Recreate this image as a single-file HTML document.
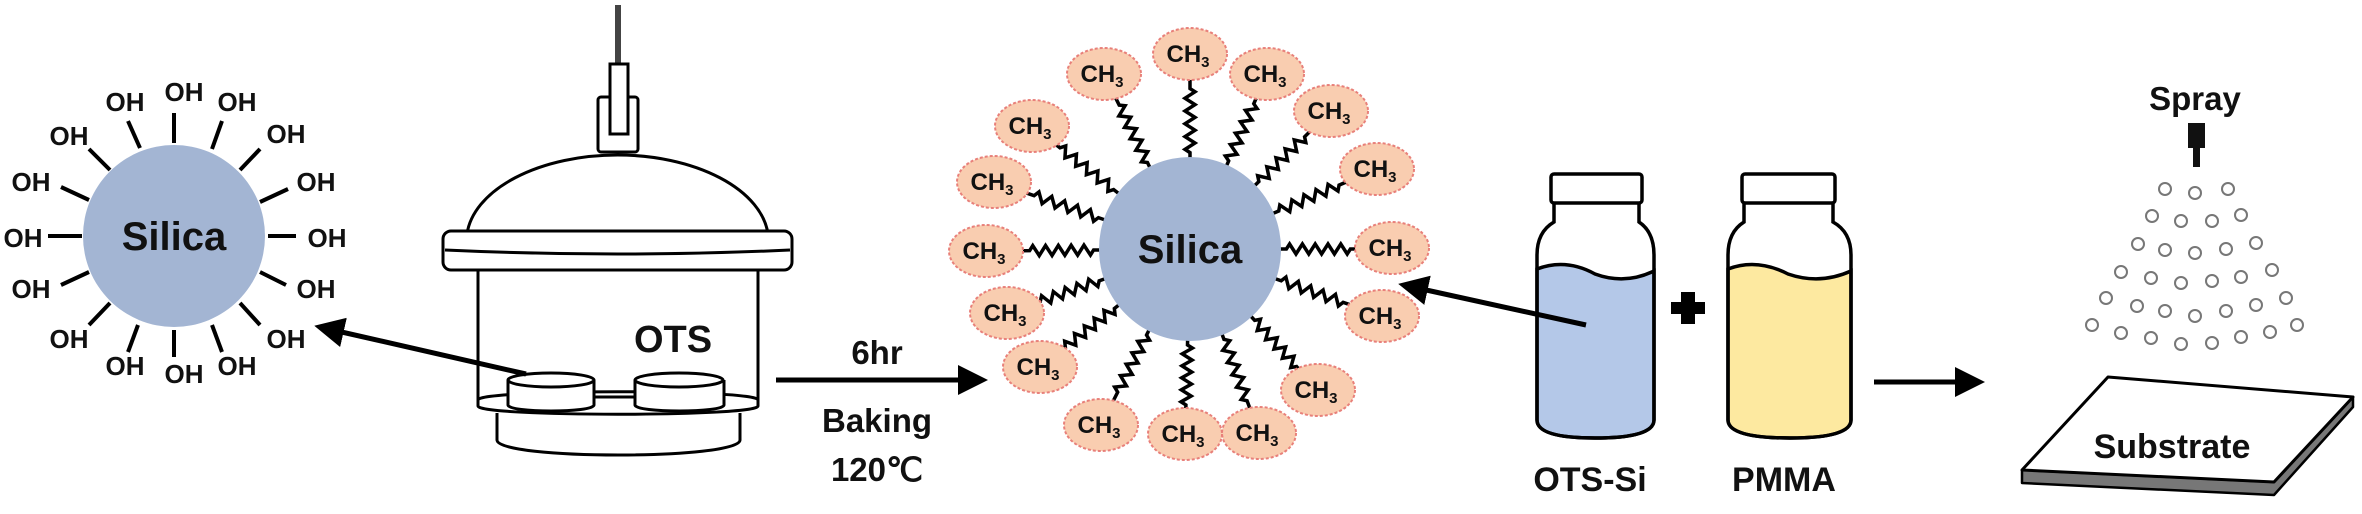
<!DOCTYPE html>
<html><head><meta charset="utf-8"><style>
html,body{margin:0;padding:0;background:#fff;}
svg{display:block;}
text{font-family:"Liberation Sans",Arial,sans-serif;font-weight:bold;fill:#111;}
</style></head><body>
<svg width="2362" height="514" viewBox="0 0 2362 514" xmlns="http://www.w3.org/2000/svg">
<defs>
<marker id="ah" markerWidth="6" markerHeight="6" refX="4" refY="3" orient="auto" markerUnits="strokeWidth">
<path d="M0,0 L6,3 L0,6 Z" fill="#000"/></marker>
<path id="zz" d="M0,0 L8,0 L12,-5 L20,5 L28,-5 L36,5 L44,-5 L52,5 L60,-5 L68,5 L76,-5 L84,5 L88,0 L100,0" fill="none" stroke="#000" stroke-width="3.5" vector-effect="non-scaling-stroke"/>
</defs>

<!-- Left silica -->
<g stroke="#000" stroke-width="4">
<line x1="174" y1="113" x2="174" y2="143"/>
<line x1="128" y1="121" x2="140" y2="148"/>
<line x1="222" y1="121" x2="212" y2="149"/>
<line x1="89" y1="149" x2="110" y2="170"/>
<line x1="260" y1="149" x2="240" y2="170"/>
<line x1="61" y1="187" x2="89" y2="200"/>
<line x1="288" y1="189" x2="260" y2="202"/>
<line x1="48" y1="236" x2="82" y2="236"/>
<line x1="268" y1="236" x2="296" y2="236"/>
<line x1="61" y1="285" x2="89" y2="272"/>
<line x1="286" y1="285" x2="260" y2="272"/>
<line x1="89" y1="325" x2="110" y2="303"/>
<line x1="260" y1="325" x2="240" y2="303"/>
<line x1="128" y1="352" x2="138" y2="325"/>
<line x1="174" y1="357" x2="174" y2="330"/>
<line x1="222" y1="352" x2="212" y2="325"/>
</g>
<circle cx="174" cy="236" r="91" fill="#a3b5d3"/>
<text x="174" y="250" font-size="40" text-anchor="middle">Silica</text>
<g font-size="26" text-anchor="middle">
<text x="125" y="111">OH</text><text x="184" y="101">OH</text><text x="237" y="111">OH</text>
<text x="69" y="145">OH</text><text x="286" y="143">OH</text>
<text x="31" y="191">OH</text><text x="316" y="191">OH</text>
<text x="23" y="247">OH</text><text x="327" y="247">OH</text>
<text x="31" y="298">OH</text><text x="316" y="298">OH</text>
<text x="69" y="348">OH</text><text x="286" y="348">OH</text>
<text x="125" y="375">OH</text><text x="184" y="383">OH</text><text x="237" y="375">OH</text>
</g>

<!-- Desiccator -->
<g stroke="#000" stroke-width="3" fill="#fff">
<rect x="615" y="5" width="6" height="62" fill="#444" stroke="none"/>
<rect x="598" y="97" width="40" height="55" rx="3"/>
<rect x="610" y="64" width="18" height="70"/>
<path d="M467,234 A151,86 0 0 1 768,234"/>
<rect x="443" y="231" width="349" height="39" rx="8"/>
<path d="M445,250 Q618,258 790,250" fill="none"/>
<line x1="478" y1="270" x2="478" y2="405"/>
<line x1="758" y1="270" x2="758" y2="405"/>
<path d="M497,413 L497,440 C497,460 740,460 740,440 L740,413"/>
<path d="M478,400 C478,389 758,389 758,400 L758,406 C758,417 478,417 478,406 Z"/>
<line x1="594" y1="397" x2="635" y2="397"/>
<path d="M508,380 L508,405 C508,413 594,413 594,405 L594,380"/>
<ellipse cx="551" cy="380" rx="43" ry="7"/>
<path d="M635,380 L635,405 C635,413 724,413 724,405 L724,380"/>
<ellipse cx="679" cy="380" rx="44" ry="7"/>
</g>
<text x="673" y="352" font-size="38" text-anchor="middle">OTS</text>
<line x1="526" y1="374" x2="324" y2="328" stroke="#000" stroke-width="5" marker-end="url(#ah)"/>

<!-- 6hr arrow -->
<line x1="776" y1="380" x2="978" y2="380" stroke="#000" stroke-width="5" marker-end="url(#ah)"/>
<g font-size="33" text-anchor="middle">
<text x="877" y="364">6hr</text>
<text x="877" y="432">Baking</text>
<text x="877" y="481">120℃</text>
</g>

<!-- Center silica with CH3 -->
<g>
<use href="#zz" transform="translate(1190,249) rotate(-116.2) translate(90,0) scale(0.8,1)"/>
<use href="#zz" transform="translate(1190,249) rotate(-90) translate(90,0) scale(0.8,1)"/>
<use href="#zz" transform="translate(1190,249) rotate(-66.3) translate(90,0) scale(0.78,1)"/>
<use href="#zz" transform="translate(1190,249) rotate(-44.4) translate(90,0) scale(0.8,1)"/>
<use href="#zz" transform="translate(1190,249) rotate(-23.2) translate(90,0) scale(0.82,1)"/>
<use href="#zz" transform="translate(1190,249) rotate(0) translate(90,0) scale(0.8,1)"/>
<use href="#zz" transform="translate(1190,249) rotate(19.2) translate(90,0) scale(0.82,1)"/>
<use href="#zz" transform="translate(1190,249) rotate(47.8) translate(90,0) scale(0.78,1)"/>
<use href="#zz" transform="translate(1190,249) rotate(69.4) translate(90,0) scale(0.82,1)"/>
<use href="#zz" transform="translate(1190,249) rotate(91.5) translate(90,0) scale(0.75,1)"/>
<use href="#zz" transform="translate(1190,249) rotate(116.8) translate(90,0) scale(0.8,1)"/>
<use href="#zz" transform="translate(1190,249) rotate(141.8) translate(90,0) scale(0.78,1)"/>
<use href="#zz" transform="translate(1190,249) rotate(160.7) translate(90,0) scale(0.78,1)"/>
<use href="#zz" transform="translate(1190,249) rotate(179.4) translate(90,0) scale(0.8,1)"/>
<use href="#zz" transform="translate(1190,249) rotate(-161.1) translate(90,0) scale(0.85,1)"/>
<use href="#zz" transform="translate(1190,249) rotate(-142.1) translate(90,0) scale(0.85,1)"/>
</g>
<ellipse cx="1190" cy="249" rx="91" ry="92" fill="#a3b5d3"/>
<text x="1190" y="263" font-size="40" text-anchor="middle">Silica</text>
<g fill="#f9cdb0" stroke="#e8807a" stroke-width="2" stroke-dasharray="3,2">
<ellipse cx="1104" cy="74" rx="37" ry="26"/>
<ellipse cx="1190" cy="54" rx="37" ry="26"/>
<ellipse cx="1267" cy="74" rx="37" ry="26"/>
<ellipse cx="1331" cy="111" rx="37" ry="26"/>
<ellipse cx="1377" cy="169" rx="37" ry="26"/>
<ellipse cx="1392" cy="248" rx="37" ry="26"/>
<ellipse cx="1382" cy="316" rx="37" ry="26"/>
<ellipse cx="1318" cy="390" rx="37" ry="26"/>
<ellipse cx="1259" cy="433" rx="37" ry="26"/>
<ellipse cx="1185" cy="434" rx="37" ry="26"/>
<ellipse cx="1101" cy="425" rx="37" ry="26"/>
<ellipse cx="1040" cy="367" rx="37" ry="26"/>
<ellipse cx="1007" cy="313" rx="37" ry="26"/>
<ellipse cx="986" cy="251" rx="37" ry="26"/>
<ellipse cx="994" cy="182" rx="37" ry="26"/>
<ellipse cx="1032" cy="126" rx="37" ry="26"/>
</g>
<g font-size="24" text-anchor="middle">
<text x="1102" y="82">CH<tspan font-size="15" dy="5">3</tspan></text>
<text x="1188" y="62">CH<tspan font-size="15" dy="5">3</tspan></text>
<text x="1265" y="82">CH<tspan font-size="15" dy="5">3</tspan></text>
<text x="1329" y="119">CH<tspan font-size="15" dy="5">3</tspan></text>
<text x="1375" y="177">CH<tspan font-size="15" dy="5">3</tspan></text>
<text x="1390" y="256">CH<tspan font-size="15" dy="5">3</tspan></text>
<text x="1380" y="324">CH<tspan font-size="15" dy="5">3</tspan></text>
<text x="1316" y="398">CH<tspan font-size="15" dy="5">3</tspan></text>
<text x="1257" y="441">CH<tspan font-size="15" dy="5">3</tspan></text>
<text x="1183" y="442">CH<tspan font-size="15" dy="5">3</tspan></text>
<text x="1099" y="433">CH<tspan font-size="15" dy="5">3</tspan></text>
<text x="1038" y="375">CH<tspan font-size="15" dy="5">3</tspan></text>
<text x="1005" y="321">CH<tspan font-size="15" dy="5">3</tspan></text>
<text x="984" y="259">CH<tspan font-size="15" dy="5">3</tspan></text>
<text x="992" y="190">CH<tspan font-size="15" dy="5">3</tspan></text>
<text x="1030" y="134">CH<tspan font-size="15" dy="5">3</tspan></text>
</g>

<!-- Bottles -->
<g stroke="#000" stroke-width="3.5">
<path d="M1537,269 Q1566,258 1595,274 Q1625,285 1654,271 L1654,420 Q1654,438 1595,438 Q1537,438 1537,420 Z" fill="#b4c8e8"/>
<path d="M1554,203 L1554,222 Q1537,232 1537,255 L1537,420 Q1537,438 1595,438 Q1654,438 1654,420 L1654,255 Q1654,232 1639,222 L1639,203" fill="none"/>
<rect x="1551" y="174" width="91" height="29" rx="3" fill="#fff"/>
<path d="M1728,269 Q1757,258 1788,274 Q1820,285 1851,271 L1851,420 Q1851,438 1790,438 Q1728,438 1728,420 Z" fill="#fde9a0"/>
<path d="M1744,203 L1744,222 Q1728,232 1728,255 L1728,420 Q1728,438 1790,438 Q1851,438 1851,420 L1851,255 Q1851,232 1833,222 L1833,203" fill="none"/>
<rect x="1742" y="174" width="93" height="29" rx="3" fill="#fff"/>
</g>
<path d="M1681,292 h14 v10 h10 v12 h-10 v10 h-14 v-10 h-10 v-12 h10 Z" fill="#000"/>
<line x1="1586" y1="325" x2="1408" y2="286" stroke="#000" stroke-width="5" marker-end="url(#ah)"/>
<g font-size="34" text-anchor="middle">
<text x="1590" y="491">OTS-Si</text>
<text x="1784" y="491">PMMA</text>
</g>
<line x1="1874" y1="382" x2="1975" y2="382" stroke="#000" stroke-width="5" marker-end="url(#ah)"/>

<!-- Spray -->
<text x="2195" y="110" font-size="33" text-anchor="middle">Spray</text>
<rect x="2188" y="123" width="17" height="25" fill="#111"/>
<rect x="2193" y="146" width="7" height="21" fill="#111"/>
<g fill="none" stroke="#777" stroke-width="2">
<circle cx="2165" cy="189" r="6"/><circle cx="2195" cy="193" r="6"/><circle cx="2228" cy="189" r="6"/>
<circle cx="2152" cy="216" r="6"/><circle cx="2181" cy="221" r="6"/><circle cx="2212" cy="221" r="6"/><circle cx="2241" cy="215" r="6"/>
<circle cx="2138" cy="244" r="6"/><circle cx="2165" cy="250" r="6"/><circle cx="2195" cy="253" r="6"/><circle cx="2226" cy="249" r="6"/><circle cx="2256" cy="243" r="6"/>
<circle cx="2121" cy="272" r="6"/><circle cx="2151" cy="278" r="6"/><circle cx="2181" cy="283" r="6"/><circle cx="2212" cy="281" r="6"/><circle cx="2241" cy="277" r="6"/><circle cx="2272" cy="270" r="6"/>
<circle cx="2106" cy="298" r="6"/><circle cx="2137" cy="306" r="6"/><circle cx="2165" cy="311" r="6"/><circle cx="2195" cy="316" r="6"/><circle cx="2226" cy="311" r="6"/><circle cx="2256" cy="305" r="6"/><circle cx="2286" cy="298" r="6"/>
<circle cx="2092" cy="325" r="6"/><circle cx="2121" cy="333" r="6"/><circle cx="2151" cy="338" r="6"/><circle cx="2181" cy="344" r="6"/><circle cx="2212" cy="343" r="6"/><circle cx="2241" cy="337" r="6"/><circle cx="2270" cy="332" r="6"/><circle cx="2297" cy="325" r="6"/>
</g>

<!-- Substrate -->
<path d="M2022,470 L2274,482 L2353,397 L2353,407 L2274,495 L2022,483 Z" fill="#777" stroke="#000" stroke-width="2.5" stroke-linejoin="round"/>
<path d="M2108,377 L2353,397 L2274,482 L2022,470 Z" fill="#fff" stroke="#000" stroke-width="3" stroke-linejoin="round"/>
<text x="2172" y="458" font-size="34" text-anchor="middle">Substrate</text>
</svg>
</body></html>
